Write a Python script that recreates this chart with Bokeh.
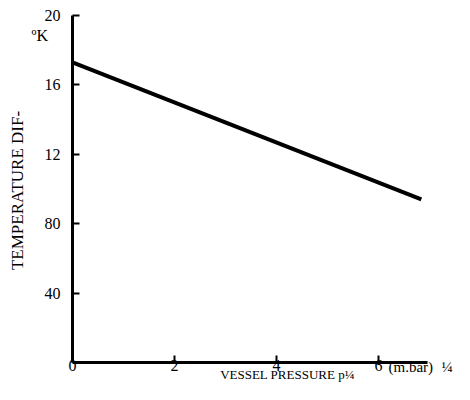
from bokeh.plotting import figure
from bokeh.models import Label, Range1d, FixedTicker
from bokeh.embed import file_html
from bokeh.resources import INLINE
from math import pi

# Data
pressure = [0.0, 6.84]          # (m.bar)^1/4
temp_diff = [17.3, 9.4]         # K
x_ticks = [0, 2, 4, 6]
y_ticks = [4, 8, 12, 16, 20]
y_tick_labels = {4: "40", 8: "80", 12: "12", 16: "16", 20: "20"}
x_title = "VESSEL PRESSURE p¼"
y_title = "TEMPERATURE DIF-"
y_unit = "ºK"
x_unit = "(m.bar)"
x_unit_exp = "¼"

FONT = "Liberation Serif"
W, H = 454, 384
X0, Y0 = 72, 362          # canvas pixel of the data origin
SX, SY = 51.0, 17.35      # pixels per data unit

p = figure(width=W, height=H, output_backend="svg", toolbar_location=None,
           x_range=Range1d(-X0 / SX, (W - X0) / SX),
           y_range=Range1d(-(H - Y0) / SY, Y0 / SY),
           min_border=0, min_border_left=0, min_border_right=0,
           min_border_top=0, min_border_bottom=0)
p.title.visible = False
p.outline_line_color = None
p.xgrid.visible = False
p.ygrid.visible = False
p.background_fill_color = "white"
p.border_fill_color = "white"

p.line(pressure, temp_diff, line_color="black", line_width=4)

for ax in (p.xaxis[0], p.yaxis[0]):
    ax.fixed_location = 0
    ax.axis_line_width = 3
    ax.axis_line_color = "black"
    ax.major_tick_in = 7
    ax.major_tick_out = 0
    ax.major_tick_line_width = 2
    ax.minor_tick_line_color = None
    ax.major_label_text_font = FONT
    ax.major_label_text_font_size = "16px"
    ax.major_label_text_color = "black"

p.xaxis.ticker = FixedTicker(ticks=x_ticks)
p.xaxis.bounds = (0, 6.96)
p.xaxis.major_label_standoff = -3
p.yaxis.ticker = FixedTicker(ticks=y_ticks)
p.yaxis.bounds = (0, 20)
p.yaxis.major_label_overrides = y_tick_labels
p.yaxis.major_label_standoff = 12

def dx(px):
    return (px - X0) / SX

def dy(py):
    return (Y0 - py) / SY

def lab(px, py, text, size, align="left", angle=0.0):
    p.add_layout(Label(x=dx(px), y=dy(py), text=text, angle=angle,
                       text_font=FONT, text_font_size=size, text_align=align,
                       text_baseline="middle", text_color="black"))

lab(287, 374, x_title, "13px", "center")
lab(388, 366, x_unit, "15px")
lab(441, 366, x_unit_exp, "15px")
lab(31, 35, y_unit, "16px")
lab(17, 190, y_title, "17px", "center", pi / 2)

open("out.html", "w").write(file_html(p, INLINE))
